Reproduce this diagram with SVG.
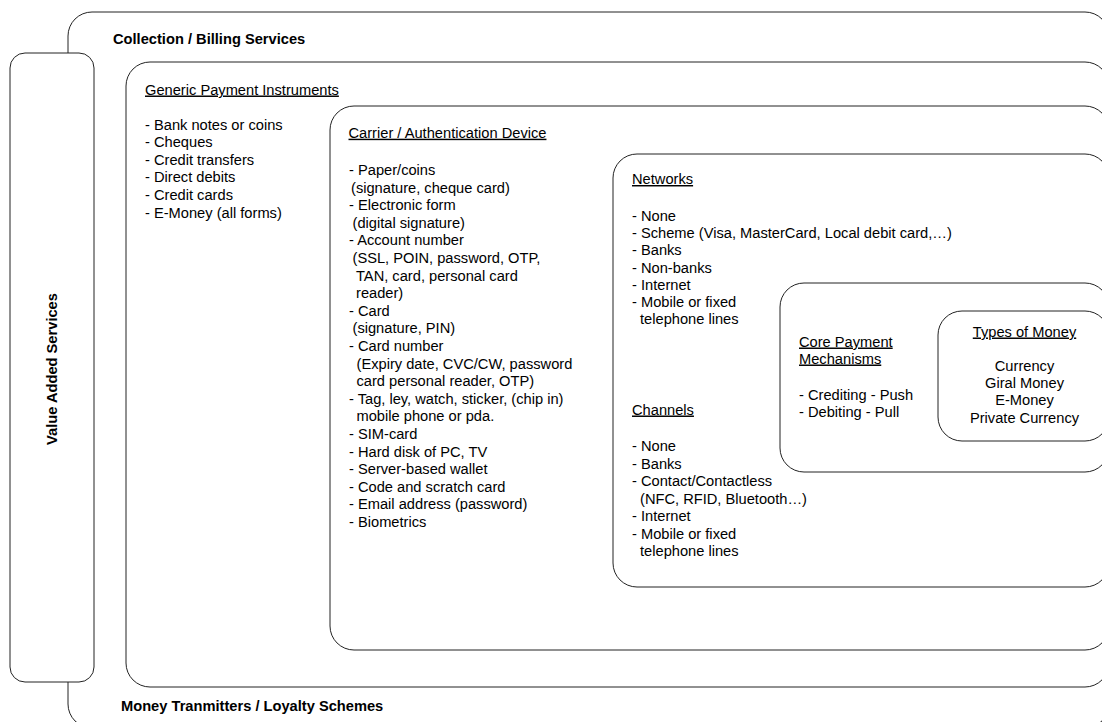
<svg xmlns="http://www.w3.org/2000/svg" width="1102" height="722" viewBox="0 0 1102 722">
<style>
.box{fill:#ffffff;stroke:#222222;stroke-width:1}
text{font-family:"Liberation Sans",Arial,sans-serif;font-size:14.67px;fill:#000000}
.b{font-weight:bold}
.u{text-decoration:underline}
.m{text-anchor:middle}
</style>
<rect width="1102" height="722" fill="#ffffff"/>
<g id="collection-billing">
<rect class="box" x="68" y="12" width="1041" height="716" rx="24" ry="24"/>
<text class="b" x="113" y="44">Collection / Billing Services</text>
<text class="b" x="121" y="711">Money Tranmitters / Loyalty Schemes</text>
</g>
<g id="value-added">
<rect class="box" x="10" y="53" width="84" height="629" rx="15" ry="15"/>
<text class="b m" transform="translate(56.5,369) rotate(-90)">Value Added Services</text>
</g>
<g id="generic-instruments">
<rect class="box" x="126" y="62" width="983" height="625" rx="24" ry="24"/>
<text class="u" x="145" y="94.5">Generic Payment Instruments</text>
<text x="145" y="129.5">- Bank notes or coins</text>
<text x="145" y="147.1">- Cheques</text>
<text x="145" y="164.7">- Credit transfers</text>
<text x="145" y="182.3">- Direct debits</text>
<text x="145" y="199.9">- Credit cards</text>
<text x="145" y="217.5">- E-Money (all forms)</text>
</g>
<g id="carrier-device">
<rect class="box" x="330" y="106" width="779" height="544" rx="24" ry="24"/>
<text class="u" x="348.5" y="137.7">Carrier / Authentication Device</text>
<text x="349" y="175">- Paper/coins</text>
<text x="351" y="192.6">(signature, cheque card)</text>
<text x="349" y="210.2">- Electronic form</text>
<text x="352.5" y="227.8">(digital signature)</text>
<text x="349" y="245.4">- Account number</text>
<text x="352.5" y="263">(SSL, POIN, password, OTP,</text>
<text x="356" y="280.6">TAN, card, personal card</text>
<text x="356" y="298.2">reader)</text>
<text x="349" y="315.8">- Card</text>
<text x="352.5" y="333.4">(signature, PIN)</text>
<text x="349" y="351">- Card number</text>
<text x="356.5" y="368.6">(Expiry date, CVC/CW, password</text>
<text x="356.5" y="386.2">card personal reader, OTP)</text>
<text x="349" y="403.8">- Tag, ley, watch, sticker, (chip in)</text>
<text x="356.5" y="421.4">mobile phone or pda.</text>
<text x="349" y="439">- SIM-card</text>
<text x="349" y="456.6">- Hard disk of PC, TV</text>
<text x="349" y="474.2">- Server-based wallet</text>
<text x="349" y="491.8">- Code and scratch card</text>
<text x="349" y="509.4">- Email address (password)</text>
<text x="349" y="527">- Biometrics</text>
</g>
<g id="networks-channels">
<rect class="box" x="613" y="154" width="496" height="433" rx="24" ry="24"/>
<text class="u" x="632" y="184">Networks</text>
<text x="632" y="221">- None</text>
<text x="632" y="238.2">- Scheme (Visa, MasterCard, Local debit card,…)</text>
<text x="632" y="255.4">- Banks</text>
<text x="632" y="272.6">- Non-banks</text>
<text x="632" y="289.8">- Internet</text>
<text x="632" y="307">- Mobile or fixed</text>
<text x="640" y="324.2">telephone lines</text>
<text class="u" x="632" y="414.5">Channels</text>
<text x="632" y="451">- None</text>
<text x="632" y="468.5">- Banks</text>
<text x="632" y="486">- Contact/Contactless</text>
<text x="640" y="503.5">(NFC, RFID, Bluetooth…)</text>
<text x="632" y="521">- Internet</text>
<text x="632" y="538.5">- Mobile or fixed</text>
<text x="640" y="556">telephone lines</text>
</g>
<g id="core-mechanisms">
<rect class="box" x="780" y="283" width="329" height="189" rx="24" ry="24"/>
<text class="u" x="799" y="346.5">Core Payment</text>
<text class="u" x="799" y="363.5">Mechanisms</text>
<text x="799" y="400">- Crediting - Push</text>
<text x="799" y="417.3">- Debiting - Pull</text>
</g>
<g id="types-of-money">
<rect class="box" x="938" y="311" width="171" height="130" rx="24" ry="24"/>
<text class="u m" x="1024.5" y="336.5">Types of Money</text>
<text class="m" x="1024.5" y="371">Currency</text>
<text class="m" x="1024.5" y="388.2">Giral Money</text>
<text class="m" x="1024.5" y="405.4">E-Money</text>
<text class="m" x="1024.5" y="422.6">Private Currency</text>
</g>
<g id="connectors"/>
</svg>
